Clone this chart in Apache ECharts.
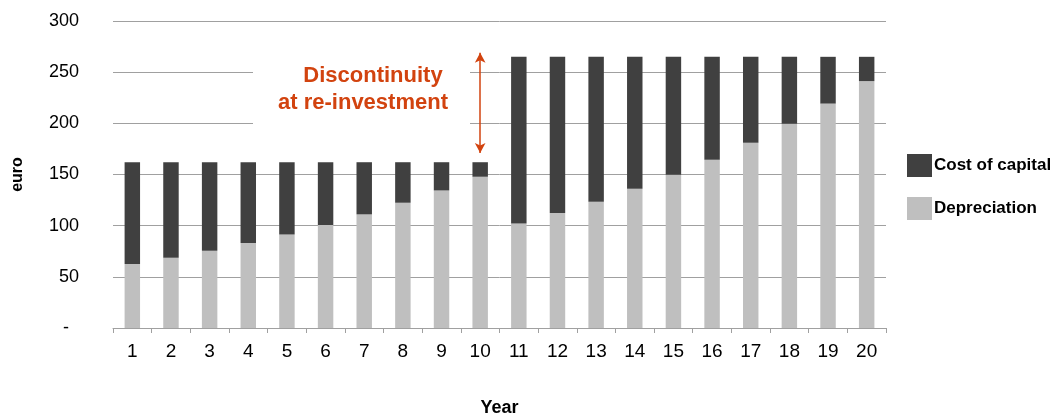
<!DOCTYPE html>
<html>
<head>
<meta charset="utf-8">
<script src="https://cdn.jsdelivr.net/npm/echarts@6/dist/echarts.min.js"></script>
<style>html,body{margin:0;padding:0;background:#fff}#c{width:1057px;height:416px}</style>
</head>
<body>
<div id="c"></div>
<script>
const years = ['1','2','3','4','5','6','7','8','9','10','11','12','13','14','15','16','17','18','19','20'];
const depreciation = [62.5, 68.6, 75.5, 83, 91.4, 100.6, 111, 122.4, 134.4, 147.8, 102.2, 112.3, 123.3, 136, 149.7, 164.4, 181, 199.5, 219.3, 241.2];
const costOfCapital = [99.5, 93.4, 86.5, 79, 70.6, 61.4, 51, 39.6, 27.6, 14.2, 162.8, 152.7, 141.7, 129, 115.3, 100.6, 84, 65.5, 45.7, 23.8];
const yTicks = [0, 50, 100, 150, 200, 250, 300];
const annotationLines = ['Discontinuity', 'at re-investment'];
const arrowYear = '10';
const arrowRange = [269, 171];

const FONT = 'Liberation Sans, Arial, sans-serif';
const ORANGE = '#d2430f';
const chart = echarts.init(document.getElementById('c'), null, {renderer: 'canvas'});
chart.setOption({
  animation: false,
  backgroundColor: '#ffffff',
  textStyle: {fontFamily: FONT},
  grid: {left: 113, right: 171, top: 21, bottom: 88, containLabel: false, outerBoundsMode: 'none'},
  legend: {
    orient: 'vertical',
    left: 902, top: 149,
    icon: 'rect',
    itemWidth: 25, itemHeight: 23, itemGap: 20,
    data: ['Cost of capital', 'Depreciation'],
    textStyle: {fontFamily: FONT, fontSize: 17, fontWeight: 'bold', color: '#000', padding: [0, 0, 0, -3]},
    selectedMode: false
  },
  xAxis: {
    type: 'category',
    data: years,
    name: 'Year',
    nameLocation: 'middle',
    nameGap: 71,
    nameTextStyle: {fontFamily: FONT, fontSize: 18, fontWeight: 'bold', color: '#000'},
    axisLine: {lineStyle: {color: '#a0a0a0', width: 1}},
    axisTick: {show: true, length: 5, lineStyle: {color: '#a0a0a0'}},
    axisLabel: {fontFamily: FONT, fontSize: 19, color: '#000', margin: 14},
    splitLine: {show: false}
  },
  yAxis: {
    type: 'value',
    min: yTicks[0], max: yTicks[yTicks.length - 1], interval: 50,
    name: 'euro',
    nameLocation: 'middle',
    nameRotate: 90,
    nameGap: 87,
    nameTextStyle: {fontFamily: FONT, fontSize: 16, fontWeight: 'bold', color: '#000'},
    axisLine: {show: false},
    axisTick: {show: false},
    axisLabel: {fontFamily: FONT, fontSize: 18, color: '#000', margin: 34,
      formatter: v => v === 0 ? '-  ' : String(v)},
    splitLine: {lineStyle: {color: '#a0a0a0', width: 1}}
  },
  series: [
    {
      name: 'Depreciation', type: 'bar', stack: 'total', data: depreciation,
      barWidth: '40%',
      itemStyle: {color: '#bfbfbf'}
    },
    {
      name: 'Cost of capital', type: 'bar', stack: 'total', data: costOfCapital,
      barWidth: '40%',
      itemStyle: {color: '#404040'},
      markLine: {
        silent: true,
        symbol: ['arrow', 'arrow'],
        symbolSize: [8, 10],
        label: {show: false},
        lineStyle: {color: ORANGE, width: 1.5, type: 'solid'},
        data: [[{coord: [arrowYear, arrowRange[0]]}, {coord: [arrowYear, arrowRange[1]]}]]
      }
    }
  ],
  graphic: [
    {type: 'rect', z: 100, shape: {x: 253, y: 58, width: 217, height: 70}, style: {fill: '#ffffff'}},
    {type: 'text', z: 101, x: 373, y: 76,
      style: {text: annotationLines[0], font: 'bold 22px ' + FONT, fill: ORANGE, textAlign: 'center', textVerticalAlign: 'middle'}},
    {type: 'text', z: 101, x: 363, y: 103,
      style: {text: annotationLines[1], font: 'bold 22px ' + FONT, fill: ORANGE, textAlign: 'center', textVerticalAlign: 'middle'}}
  ]
});
</script>
</body>
</html>
